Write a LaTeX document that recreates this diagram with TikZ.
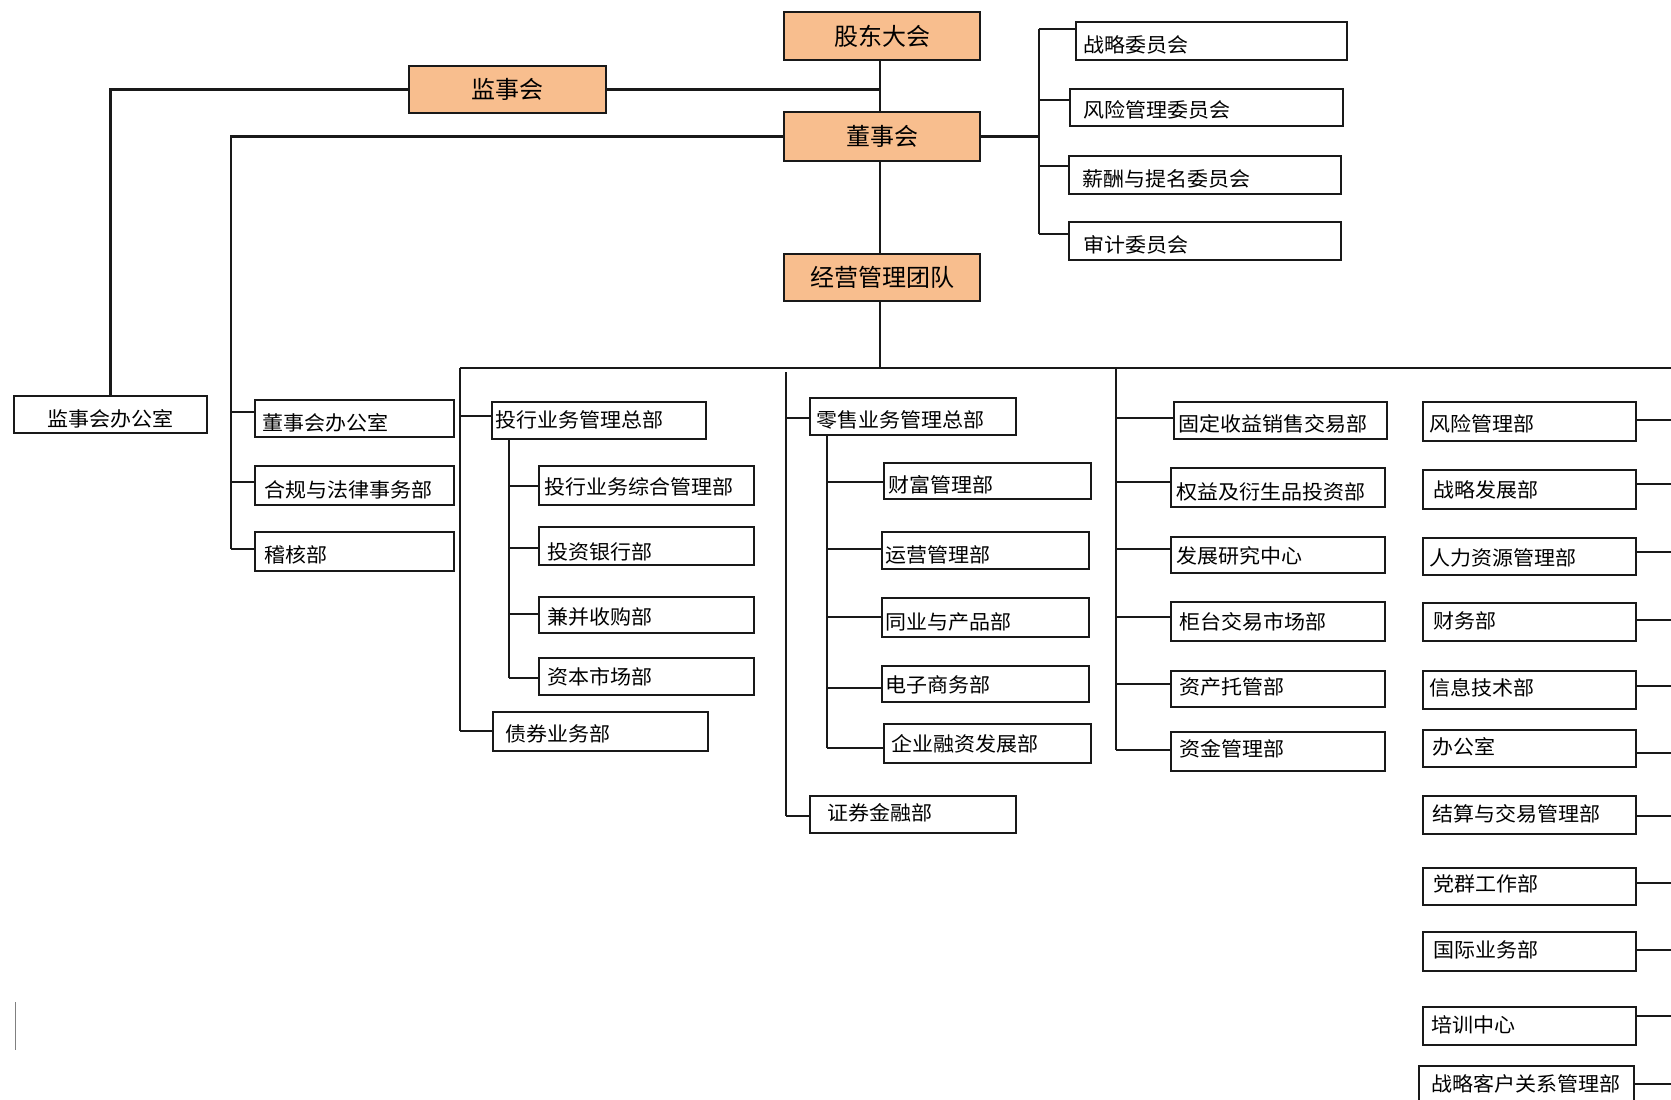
\documentclass[tikz,border=0pt]{standalone}
\usepackage{fontspec}
\newfontfamily\cjk[FakeStretch=1.05]{Noto Sans CJK SC}
\newfontfamily\cjkbig{Noto Sans CJK SC}
\definecolor{orgfill}{RGB}{248,190,142}
\definecolor{ln}{RGB}{25,25,25}
\tikzset{
  dept/.style={draw=ln, line width=2.1pt, fill=white, inner sep=0pt, rectangle},
  lead/.style={draw=ln, line width=2.1pt, fill=orgfill, inner sep=0pt, rectangle,
    font=\cjkbig\fontsize{24}{28}\selectfont},
  lbl/.style={anchor=west, inner sep=0pt, font=\cjk\fontsize{20}{24}\selectfont},
  conn/.style={draw=ln, line width=2.1pt}
}
% name, x1, y1, x2, y2, text, text x, text y
\newcommand\dept[8]{%
  \node[dept, minimum width={#4-#2}, minimum height={#5-#3}] (#1) at ({(#2+#4)/2},{(#3+#5)/2}) {};
  \node[lbl] (#1t) at (#7,#8) {#6};}
% name, x1, y1, x2, y2, text
\newcommand\lead[6]{%
  \node[lead, minimum width={#4-#2}, minimum height={#5-#3}] (#1) at ({(#2+#4)/2},{(#3+#5)/2}) {#6};}
% branch from bus x at y to west side of node
\newcommand\br[3]{\draw[conn] (#1,#2) -- (#3.west |- 0,#2);}
% stub from east side of node to right edge
\newcommand\stub[2]{\draw[conn] (#1.east |- 0,#2) -- (1671,#2);}
\begin{document}
\begin{tikzpicture}[x=1pt,y=-1pt]
\useasboundingbox (0,0) rectangle (1671,1100);
\clip (0,0) rectangle (1671,1100);
\fill[white] (0,0) rectangle (1671,1100);

% ---------- top governance ----------
\lead{gd}{784}{12}{980}{60}{股东大会}
\lead{jsh}{409}{66}{606}{113}{监事会}
\lead{dsh}{784}{112}{980}{161}{董事会}
\lead{jy}{784}{254}{980}{301}{经营管理团队}

\draw[conn] (gd.south -| 880,0) -- (dsh.north -| 880,0);
\draw[conn] (dsh.south -| 880,0) -- (jy.north -| 880,0);
\draw[conn] (jy.south -| 880,0) -- (880,368);
\draw[conn] (jsh.east) -- (880,89.5);

% committees
\dept{c1}{1076}{22}{1347}{60}{战略委员会}{1083}{45}
\dept{c2}{1070}{89}{1343}{126}{风险管理委员会}{1083}{110}
\dept{c3}{1069}{156}{1341}{194}{薪酬与提名委员会}{1082}{179}
\dept{c4}{1069}{222}{1341}{260}{审计委员会}{1083}{245}
\draw[conn] (dsh.east) -- (1039,136.5);
\draw[conn] (1039,29) -- (1039,234);
\br{1039}{29}{c1}
\br{1039}{100}{c2}
\br{1039}{166}{c3}
\br{1039}{234}{c4}

% supervisory office
\dept{jsb}{14}{396}{207}{433}{监事会办公室}{47}{419}
\draw[conn] (jsh.west) -| (jsb.north);

% board offices
\dept{dsb}{255}{400}{454}{437}{董事会办公室}{262}{423}
\dept{hg}{255}{466}{454}{505}{合规与法律事务部}{264}{490}
\dept{jh}{255}{532}{454}{571}{稽核部}{264}{555}
\draw[conn] (dsh.west) -- (231,136.5) -- (231,549);
\br{231}{412}{dsb}
\br{231}{482}{hg}
\br{231}{549}{jh}

% ---------- management bus ----------
\draw[conn] (460,368) -- (1671,368);

% investment banking
\dept{th}{492}{402}{706}{439}{投行业务管理总部}{495}{420}
\dept{t1}{539}{466}{754}{505}{投行业务综合管理部}{544}{487}
\dept{t2}{539}{527}{754}{565}{投资银行部}{547}{552}
\dept{t3}{539}{597}{754}{633}{兼并收购部}{547}{617}
\dept{t4}{539}{658}{754}{695}{资本市场部}{547}{677}
\dept{zq}{493}{712}{708}{751}{债券业务部}{505}{734}
\draw[conn] (460,368) -- (460,731);
\br{460}{416}{th}
\br{460}{731}{zq}
\draw[conn] (th.south -| 509,0) -- (509,678);
\br{509}{486}{t1}
\br{509}{548}{t2}
\br{509}{614}{t3}
\br{509}{678}{t4}

% retail
\dept{ls}{810}{398}{1016}{435}{零售业务管理总部}{816}{420}
\dept{r1}{884}{463}{1091}{499}{财富管理部}{888}{485}
\dept{r2}{882}{532}{1089}{569}{运营管理部}{885}{555}
\dept{r3}{882}{598}{1089}{637}{同业与产品部}{885}{622}
\dept{r4}{882}{666}{1089}{702}{电子商务部}{885}{685}
\dept{r5}{884}{724}{1091}{763}{企业融资发展部}{891}{744}
\dept{zj}{810}{796}{1016}{833}{证券金融部}{827}{813}
\draw[conn] (786,372) -- (786,816);
\br{786}{418}{ls}
\br{786}{816}{zj}
\draw[conn] (ls.south -| 827,0) -- (827,748);
\br{827}{482}{r1}
\br{827}{549}{r2}
\br{827}{617}{r3}
\br{827}{688}{r4}
\br{827}{748}{r5}

% business departments
\dept{f1}{1174}{402}{1387}{439}{固定收益销售交易部}{1178}{424}
\dept{f2}{1171}{468}{1385}{507}{权益及衍生品投资部}{1176}{492}
\dept{f3}{1171}{537}{1385}{573}{发展研究中心}{1176}{556}
\dept{f4}{1171}{602}{1385}{641}{柜台交易市场部}{1179}{622}
\dept{f5}{1171}{671}{1385}{707}{资产托管部}{1179}{687}
\dept{f6}{1171}{732}{1385}{771}{资金管理部}{1179}{749}
\draw[conn] (1116,368) -- (1116,750);
\br{1116}{418}{f1}
\br{1116}{482}{f2}
\br{1116}{549}{f3}
\br{1116}{617}{f4}
\br{1116}{684}{f5}
\br{1116}{750}{f6}

% functional departments
\dept{g1}{1423}{402}{1636}{441}{风险管理部}{1429}{424}
\dept{g2}{1423}{470}{1636}{509}{战略发展部}{1433}{490}
\dept{g3}{1423}{538}{1636}{575}{人力资源管理部}{1429}{558}
\dept{g4}{1423}{603}{1636}{641}{财务部}{1433}{621}
\dept{g5}{1423}{671}{1636}{709}{信息技术部}{1429}{688}
\dept{g6}{1423}{730}{1636}{767}{办公室}{1432}{747}
\dept{g7}{1423}{796}{1636}{834}{结算与交易管理部}{1432}{814}
\dept{g8}{1423}{868}{1636}{905}{党群工作部}{1433}{884}
\dept{g9}{1423}{932}{1636}{971}{国际业务部}{1433}{950}
\dept{g10}{1423}{1007}{1636}{1045}{培训中心}{1431}{1025}
\dept{g11}{1419}{1066}{1634}{1106}{战略客户关系管理部}{1431}{1084}
\stub{g1}{420}
\stub{g2}{484}
\stub{g3}{552}
\stub{g4}{620}
\stub{g5}{686}
\stub{g6}{753}
\stub{g7}{816}
\stub{g8}{883}
\stub{g9}{950}
\stub{g10}{1016}
\stub{g11}{1084}

% stray cursor mark
\draw[gray, line width=1pt] (15,1002) -- (15,1050);
\end{tikzpicture}
\end{document}
